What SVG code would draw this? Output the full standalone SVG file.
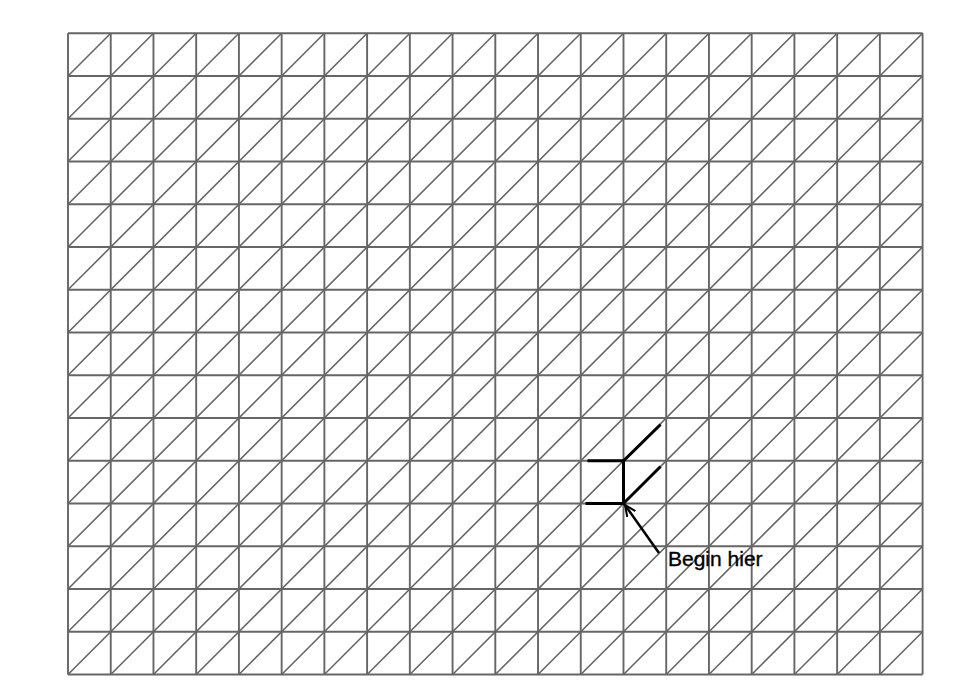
<svg xmlns="http://www.w3.org/2000/svg" width="957" height="699" viewBox="0 0 957 699">
<style>
.g{stroke:#666;stroke-width:1.9;fill:none;vector-effect:non-scaling-stroke}
.d{stroke:#666;stroke-width:1.6;fill:none;vector-effect:non-scaling-stroke}
.b{stroke:#000;stroke-width:3;fill:none;stroke-linecap:square}
.t{font-family:"Liberation Sans",Arial,sans-serif;font-size:21px;fill:#000;stroke:#000;stroke-width:0.35}
</style>
<defs>
<marker id="ah" viewBox="0 0 12 12" refX="11" refY="6" markerWidth="12" markerHeight="12" markerUnits="userSpaceOnUse" orient="auto">
<path d="M0 1L11 6L0 11" fill="none" stroke="#000" stroke-width="2"/>
</marker>
</defs>
<g id="grid" transform="translate(68,33.3) scale(42.73,42.75)">
<path class="g" d="M0 0V15M1 0V15M2 0V15M3 0V15M4 0V15M5 0V15M6 0V15M7 0V15M8 0V15M9 0V15M10 0V15M11 0V15M12 0V15M13 0V15M14 0V15M15 0V15M16 0V15M17 0V15M18 0V15M19 0V15M20 0V15"/>
<path class="g" d="M0 0H20M0 1H20M0 2H20M0 3H20M0 4H20M0 5H20M0 6H20M0 7H20M0 8H20M0 9H20M0 10H20M0 11H20M0 12H20M0 13H20M0 14H20M0 15H20"/>
<path class="d" d="M0 1L1 0M0 2L2 0M0 3L3 0M0 4L4 0M0 5L5 0M0 6L6 0M0 7L7 0M0 8L8 0M0 9L9 0M0 10L10 0M0 11L11 0M0 12L12 0M0 13L13 0M0 14L14 0M0 15L15 0M1 15L16 0M2 15L17 0M3 15L18 0M4 15L19 0M5 15L20 0M6 15L20 1M7 15L20 2M8 15L20 3M9 15L20 4M10 15L20 5M11 15L20 6M12 15L20 7M13 15L20 8M14 15L20 9M15 15L20 10M16 15L20 11M17 15L20 12M18 15L20 13M19 15L20 14"/>
</g>
<g id="path">
<path class="b" d="M589 460.8H623.5V503.5H587"/>
<path class="b" d="M623.5 460.8L659.5 425.5"/>
<path class="b" d="M623.5 503.5L659.5 467.5"/>
</g>
<g id="connectors">
<line x1="659" y1="553" x2="625" y2="505" stroke="#000" stroke-width="2.5" marker-end="url(#ah)"/>
</g>
<g id="label">
<text class="t" x="668" y="565.5">Begin hier</text>
</g>
</svg>
